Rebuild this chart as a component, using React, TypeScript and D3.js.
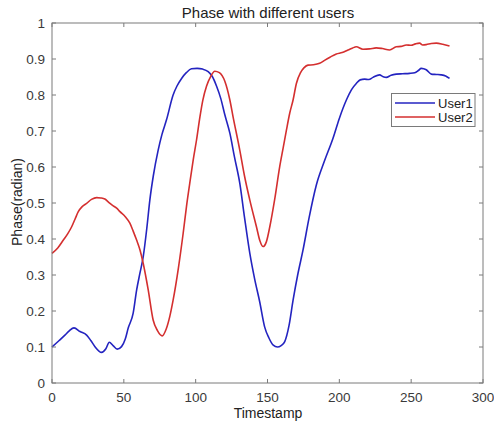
import React from "react";
import * as d3 from "d3";

const user1T = [0, 5, 9, 12, 15.3, 19.5, 24.1, 27, 29.9, 34.5, 37.5, 39.9, 42.5, 45.4, 48.4, 51, 53, 56.5, 58.9, 61.2, 63.5, 66, 68.1, 70.5, 73.9, 76.5, 79.7, 84.3, 87, 90.2, 93.5, 97.1, 101, 104.8, 108.7, 111.5, 114.5, 117.5, 120.3, 123.8, 127, 130.7, 134, 137.7, 141, 144.6, 148, 151, 154, 156.9, 159.5, 162, 165, 167.8, 171, 174.7, 179, 184, 189.5, 195.6, 200, 204.9, 208.5, 211.8, 214.5, 217.6, 220.5, 223.4, 228, 230.5, 232.7, 236, 239.6, 244, 248.9, 252.5, 255, 257, 260.5, 264, 267.5, 270.9, 274, 276.7];
const user1V = [0.1, 0.118, 0.133, 0.145, 0.153, 0.143, 0.133, 0.118, 0.101, 0.085, 0.095, 0.113, 0.104, 0.094, 0.101, 0.122, 0.152, 0.194, 0.258, 0.305, 0.351, 0.43, 0.508, 0.575, 0.647, 0.69, 0.731, 0.8, 0.825, 0.846, 0.862, 0.873, 0.874, 0.872, 0.865, 0.852, 0.825, 0.79, 0.745, 0.694, 0.628, 0.555, 0.46, 0.36, 0.29, 0.225, 0.156, 0.125, 0.105, 0.1, 0.104, 0.115, 0.16, 0.23, 0.3, 0.369, 0.46, 0.55, 0.615, 0.68, 0.735, 0.786, 0.815, 0.832, 0.842, 0.844, 0.843, 0.849, 0.856, 0.851, 0.849, 0.855, 0.858, 0.859, 0.86, 0.862, 0.868, 0.874, 0.87, 0.858, 0.857, 0.856, 0.853, 0.846];

const user2T = [0, 4, 7.9, 11, 13.7, 16, 18.3, 21, 24.1, 27.5, 31.1, 34, 36.8, 39.5, 42.6, 45, 47.3, 51, 54.2, 56.5, 58.9, 61.2, 63.5, 67, 70.4, 73.5, 76.7, 79.5, 82, 84.3, 88, 91.3, 93.6, 95.9, 98.3, 100.6, 103, 105, 107.6, 110.5, 113.3, 116.5, 120.3, 123.8, 126, 130.7, 134, 137.7, 142.3, 144.7, 146.9, 149.2, 151.6, 155, 158.5, 161, 163.2, 165.5, 167.8, 170.1, 173, 175.5, 178.2, 182, 186.3, 190, 193.5, 197.9, 202, 206, 209, 211.8, 216.4, 221, 225.7, 230, 235, 239.6, 243, 246.6, 250, 253, 255.9, 258, 260.5, 264, 267.5, 272, 276.7];
const user2V = [0.36, 0.375, 0.397, 0.415, 0.434, 0.455, 0.476, 0.49, 0.499, 0.51, 0.515, 0.514, 0.511, 0.502, 0.492, 0.486, 0.476, 0.462, 0.444, 0.422, 0.397, 0.37, 0.332, 0.258, 0.175, 0.145, 0.131, 0.15, 0.185, 0.23, 0.32, 0.416, 0.49, 0.555, 0.62, 0.675, 0.74, 0.786, 0.825, 0.852, 0.866, 0.862, 0.838, 0.786, 0.74, 0.647, 0.575, 0.508, 0.434, 0.395, 0.379, 0.392, 0.434, 0.51, 0.601, 0.655, 0.703, 0.75, 0.786, 0.832, 0.862, 0.876, 0.883, 0.884, 0.888, 0.897, 0.905, 0.914, 0.918, 0.925, 0.93, 0.934, 0.927, 0.928, 0.931, 0.929, 0.925, 0.934, 0.935, 0.939, 0.938, 0.942, 0.944, 0.939, 0.94, 0.943, 0.944, 0.941, 0.936];

const xTicks = [0, 50, 100, 150, 200, 250, 300];
const yTicks = [0, 0.1, 0.2, 0.3, 0.4, 0.5, 0.6, 0.7, 0.8, 0.9, 1];
const seriesNames = ["User1", "User2"];
const seriesColors = ["#2424c0", "#d42f2f"];

const W = 494;
const H = 426;
const left = 52;
const right = 483;
const top = 23;
const bottom = 383;
const font = "'Liberation Sans', Arial, Helvetica, sans-serif";

export default function App() {
  const x = d3.scaleLinear().domain([0, 300]).range([left, right]);
  const y = d3.scaleLinear().domain([0, 1]).range([bottom, top]);
  const line = d3
    .line<[number, number]>()
    .x((d) => x(d[0]))
    .y((d) => y(d[1]))
    .curve(d3.curveMonotoneX);
  const s1 = user1T.map((t, i) => [t, user1V[i]] as [number, number]);
  const s2 = user2T.map((t, i) => [t, user2V[i]] as [number, number]);
  const axisColor = "#7a7a7a";
  const textColor = "#3a3a3a";
  const tl = 4;
  return (
    <svg width={W} height={H} style={{ position: "absolute", left: 0, top: 0, background: "#fff" }}>
      <rect x={0} y={0} width={W} height={H} fill="#fff" />
      <rect x={left} y={top} width={right - left} height={bottom - top} fill="#fff" />
      <path d={line(s1) || ""} fill="none" stroke={seriesColors[0]} strokeWidth={1.6} />
      <path d={line(s2) || ""} fill="none" stroke={seriesColors[1]} strokeWidth={1.6} />
      <rect x={left} y={top} width={right - left} height={bottom - top} fill="none" stroke={axisColor} strokeWidth={1} />
      {xTicks.map((t) => (
        <g key={"x" + t}>
          <line x1={x(t)} x2={x(t)} y1={bottom} y2={bottom - tl} stroke={axisColor} />
          <line x1={x(t)} x2={x(t)} y1={top} y2={top + tl} stroke={axisColor} />
          <text x={x(t)} y={402} textAnchor="middle" fontFamily={font} fontSize={13.5} fill={textColor}>
            {t}
          </text>
        </g>
      ))}
      {yTicks.map((t) => (
        <g key={"y" + t}>
          <line x1={left} x2={left + tl} y1={y(t)} y2={y(t)} stroke={axisColor} />
          <line x1={right} x2={right - tl} y1={y(t)} y2={y(t)} stroke={axisColor} />
          <text x={45} y={y(t) + 4.8} textAnchor="end" fontFamily={font} fontSize={13.5} fill={textColor}>
            {d3.format("~g")(t)}
          </text>
        </g>
      ))}
      <text x={268} y={18} textAnchor="middle" fontFamily={font} fontSize={15} fill="#222">
        Phase with different users
      </text>
      <text x={268} y={418} textAnchor="middle" fontFamily={font} fontSize={14} fill="#222">
        Timestamp
      </text>
      <text
        transform={`translate(21.5, 202) rotate(-90)`}
        textAnchor="middle"
        fontFamily={font}
        fontSize={14}
        fill="#222"
      >
        Phase(radian)
      </text>
      <g>
        <rect x={391.5} y={93.5} width={83.5} height={33} fill="#fff" stroke={axisColor} strokeWidth={1} />
        {seriesNames.map((n, i) => (
          <g key={n}>
            <line x1={395} x2={435} y1={103 + i * 14} y2={103 + i * 14} stroke={seriesColors[i]} strokeWidth={1.6} />
            <text x={438} y={108 + i * 14} fontFamily={font} fontSize={13} fill="#222">
              {n}
            </text>
          </g>
        ))}
      </g>
    </svg>
  );
}
